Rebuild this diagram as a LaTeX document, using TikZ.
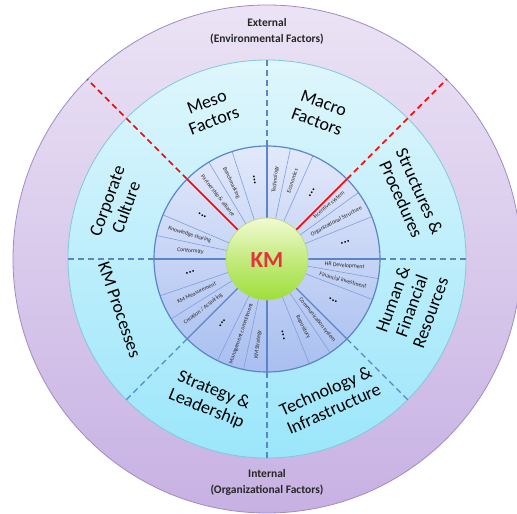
\documentclass[tikz,border=0pt]{standalone}
\usepackage{fontspec}
\setmainfont{Carlito}
\definecolor{outerTop}{HTML}{EBE3F5}
\definecolor{outerBot}{HTML}{C7B1E3}
\definecolor{outerEdge}{HTML}{A08CC0}
\definecolor{midTop}{HTML}{DFF6FC}
\definecolor{midBot}{HTML}{9BE6FB}
\definecolor{midEdge}{HTML}{80C8DE}
\definecolor{inTop}{HTML}{E3E9FB}
\definecolor{inBot}{HTML}{A9BFF0}
\definecolor{mainblue}{HTML}{5A86C8}
\definecolor{subblue}{HTML}{7FA0D8}
\definecolor{kmTop}{HTML}{F2FAD2}
\definecolor{kmBot}{HTML}{9EDE3A}
\definecolor{kmEdge}{HTML}{B5D878}
\definecolor{kmred}{HTML}{E2343C}
\begin{document}
\begin{tikzpicture}[x=1pt,y=1pt,
  bigtxt/.style={font=\fontsize{18}{20}\selectfont, align=center, text=black},
  smalltxt/.style={font=\fontsize{5.8}{7}\selectfont, text=black!85, inner sep=1pt},
  dotstxt/.style={font=\fontsize{12}{12}\selectfont\bfseries, text=black, inner sep=0pt},
  ringtxt/.style={font=\fontsize{11.5}{16}\selectfont\bfseries, align=center, text=black!85},
  subline/.style={draw=subblue, line width=0.6pt},
  mainline/.style={draw=mainblue, line width=1.1pt},
  bluedash/.style={draw=mainblue, line width=1.1pt, dash pattern=on 6pt off 4pt},
  redsolid/.style={draw=red, line width=1.6pt},
  reddash/.style={draw=red, line width=1.6pt, dash pattern=on 6pt off 4pt},
]
\useasboundingbox (-267,259) rectangle (250,-255);

% outer ring: external / internal factors
\shade[top color=outerTop, bottom color=outerBot] (0,0) circle (254);
\draw[outerEdge, line width=0.8pt] (0,0) circle (254);

% middle ring: eight factor groups
\shade[top color=midTop, bottom color=midBot] (0,0) circle (199);
\draw[midEdge, line width=0.8pt] (0,0) circle (199);
\foreach \a in {0,90,180,270,225,315}
  \draw[bluedash] (\a:113) -- (\a:199);
\foreach \a in {45,135}
  \draw[reddash] (\a:113) -- (\a:254);

% inner disc with sub-factor sectors
\shade[top color=inTop, bottom color=inBot] (0,0) circle (113);
\foreach \a in {121,108,78,66,36,22,-10,-21,-56,-68,-102,-116,212,199,168,157}
  \draw[subline] (\a:41) -- (\a:113);
\foreach \a in {0,90,180,270,225,315}
  \draw[mainline] (\a:41) -- (\a:113);
\draw[mainblue, line width=1.2pt] (0,0) circle (113);
\foreach \a in {45,135}
  \draw[redsolid] (\a:41) -- (\a:113);

% central KM disc
\shade[top color=kmTop, bottom color=kmBot, middle color=kmBot!55!kmTop] (0,0) circle (41);
\draw[kmEdge, line width=0.6pt] (0,0) circle (41);
\node[font=\fontsize{23}{23}\selectfont\bfseries, text=kmred] (km) at (0,-1) {KM};

% outer ring labels
\node[ringtxt] (external) at (0,228) {External\\(Environmental Factors)};
\node[ringtxt] (internal) at (0,-223) {Internal\\(Organizational Factors)};

% middle ring labels
\node[bigtxt, rotate=21]  (meso)    at (111:158) {Meso\\Factors};
\node[bigtxt, rotate=-20] (macro)   at (70:156)  {Macro\\Factors};
\node[bigtxt, rotate=-66] (struct)  at (24:157)  {Structures \&\\Procedures};
\node[bigtxt, rotate=70]  (human)   at (-18:152) {Human \&\\Financial\\Resources};
\node[bigtxt, rotate=24]  (techinf) at (-66:154) {Technology \&\\Infrastructure};
\node[bigtxt, rotate=-22] (strat)   at (-112:152) {Strategy \&\\Leadership};
\node[bigtxt, rotate=-71] (kmproc)  at (199:156) {KM Processes};
\node[bigtxt, rotate=70]  (culture) at (160:160) {Corporate\\Culture};

% sub-factors: meso
\node[smalltxt, rotate=-52] (partner) at (128:80) {Partnership \& alliance};
\node[smalltxt, rotate=-65] (bench)   at (115:84) {Benchmarking};
\node[dotstxt,  rotate=-80] (dmeso)   at (99:80)  {...};
% sub-factors: macro
\node[smalltxt, rotate=84] (techno) at (84:80) {Technology};
\node[smalltxt, rotate=72] (econ)   at (72:82) {Economics};
\node[dotstxt,  rotate=57] (dmacro) at (56:80) {...};
% sub-factors: structures
\node[smalltxt, rotate=40] (incent) at (41:82) {Incentive system};
\node[smalltxt, rotate=28] (orgst)  at (28.5:79) {Organizational Structure};
\node[dotstxt,  rotate=12] (dstruct) at (12:80) {...};
% sub-factors: human & financial
\node[smalltxt, rotate=-5]  (hrdev) at (-5:78)  {HR Development};
\node[smalltxt, rotate=-15] (finv)  at (-15.5:79) {Financial investment};
\node[dotstxt,  rotate=-32] (dhuman) at (-32:78) {...};
% sub-factors: technology
\node[smalltxt, rotate=-51] (comm) at (-50.5:79) {Communication system};
\node[smalltxt, rotate=-62] (repo) at (-62:77)   {Repository};
\node[dotstxt,  rotate=-78] (dtech) at (-78:78)  {...};
% sub-factors: strategy
\node[smalltxt, rotate=84] (kmstrat) at (-96:86)  {KM Strategy};
\node[smalltxt, rotate=71] (mgmt)    at (-109:79) {Management commitment};
\node[dotstxt,  rotate=55] (dstrat)  at (-125:78) {...};
% sub-factors: KM processes
\node[smalltxt, rotate=38] (create) at (218:81) {Creation / Acquiring};
\node[smalltxt, rotate=26] (kmmeas) at (205.5:78) {KM Measurement};
\node[dotstxt,  rotate=12] (dproc)  at (190:78) {...};
% sub-factors: culture
\node[smalltxt, rotate=-6]  (conform) at (174:77) {Conformity};
\node[smalltxt, rotate=-17] (ksharing) at (162.5:81) {Knowledge sharing};
\node[dotstxt,  rotate=-34] (dcult)   at (146:78) {...};
\end{tikzpicture}
\end{document}
